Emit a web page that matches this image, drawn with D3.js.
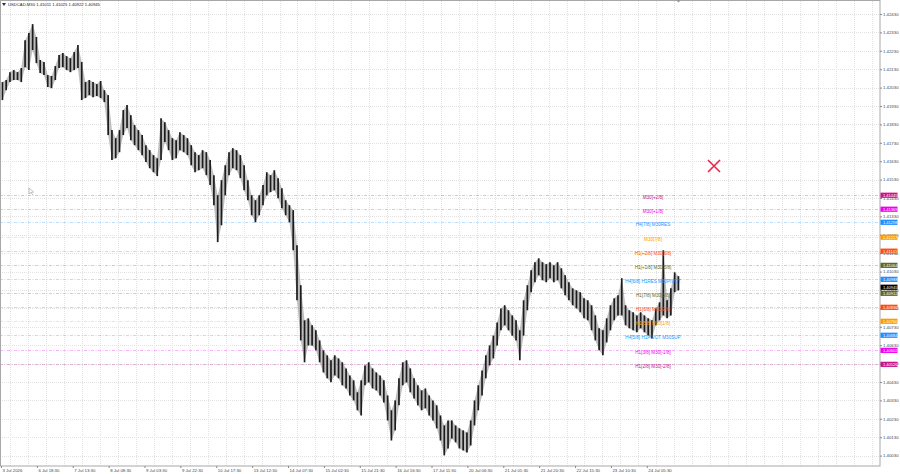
<!DOCTYPE html>
<html>
<head>
<meta charset="utf-8">
<script src="https://cdn.jsdelivr.net/npm/d3@7"></script>
<style>
  body { margin: 0; background: #fff; }
  text { font-family: "Liberation Sans", Arial, sans-serif; }
</style>
</head>
<body>
<div id="chart"></div>
<script>
// ---- data (USDCAD M30, one sample = 4 bars, high / low)
var symbolTitle = "USDCAD,M30  1.41011 1.41025 1.40922 1.40945";
var lastPrice = 1.40945;
var barsPerSample = 4;

var highs = [1.42060,1.42071,1.42114,1.42125,1.42114,1.42136,1.42288,1.42327,1.42375,1.42305,
  1.42180,1.42169,1.42098,1.42093,1.42147,1.42207,1.42218,1.42201,1.42190,1.42223,
  1.42261,1.42169,1.42060,1.42071,1.42060,1.42049,1.42066,1.42016,1.41989,1.41799,
  1.41755,1.41799,1.41908,1.41935,1.41880,1.41826,1.41799,1.41772,1.41717,1.41690,
  1.41663,1.41646,1.41864,1.41842,1.41799,1.41755,1.41744,1.41788,1.41772,1.41755,
  1.41717,1.41679,1.41663,1.41690,1.41679,1.41636,1.41554,1.41445,1.41527,1.41608,
  1.41679,1.41701,1.41690,1.41663,1.41608,1.41527,1.41445,1.41418,1.41445,1.41500,
  1.41570,1.41554,1.41581,1.41538,1.41483,1.41418,1.41391,1.41364,1.41173,1.40956,
  1.40765,1.40776,1.40738,1.40711,1.40656,1.40602,1.40575,1.40548,1.40575,1.40558,
  1.40537,1.40504,1.40466,1.40439,1.40374,1.40439,1.40520,1.40537,1.40504,1.40482,
  1.40466,1.40439,1.40357,1.40276,1.40330,1.40450,1.40537,1.40548,1.40504,1.40450,
  1.40412,1.40384,1.40395,1.40357,1.40330,1.40303,1.40248,1.40194,1.40221,1.40221,
  1.40194,1.40178,1.40167,1.40156,1.40221,1.40330,1.40412,1.40493,1.40575,1.40629,
  1.40682,1.40754,1.40830,1.40847,1.40820,1.40792,1.40765,1.40711,1.40874,1.40956,
  1.41037,1.41081,1.41102,1.41081,1.41070,1.41081,1.41064,1.41081,1.41048,1.41010,
  1.40972,1.40939,1.40928,1.40918,1.40885,1.40874,1.40847,1.40792,1.40722,1.40711,
  1.40776,1.40847,1.40885,1.40901,1.40994,1.40847,1.40820,1.40809,1.40792,1.40809,
  1.40792,1.40776,1.40765,1.40830,1.40863,1.41146,1.40874,1.40939,1.41026,1.41005];

var lows = [1.41962,1.42016,1.42060,1.42071,1.42071,1.42060,1.42141,1.42125,1.42234,1.42163,
  1.42109,1.42098,1.42033,1.42027,1.42071,1.42136,1.42141,1.42125,1.42114,1.42125,
  1.42136,1.41962,1.41973,1.41989,1.41978,1.41984,1.41973,1.41951,1.41772,1.41636,
  1.41646,1.41679,1.41772,1.41810,1.41744,1.41717,1.41690,1.41663,1.41625,1.41592,
  1.41570,1.41549,1.41636,1.41734,1.41690,1.41636,1.41646,1.41690,1.41679,1.41663,
  1.41608,1.41570,1.41581,1.41592,1.41554,1.41500,1.41391,1.41190,1.41282,1.41445,
  1.41554,1.41592,1.41581,1.41538,1.41472,1.41418,1.41336,1.41298,1.41336,1.41391,
  1.41445,1.41462,1.41472,1.41429,1.41374,1.41336,1.41298,1.41146,1.40874,1.40656,
  1.40537,1.40629,1.40629,1.40602,1.40537,1.40482,1.40450,1.40428,1.40466,1.40450,
  1.40412,1.40395,1.40357,1.40330,1.40276,1.40248,1.40412,1.40428,1.40395,1.40384,
  1.40357,1.40319,1.40221,1.40112,1.40167,1.40303,1.40412,1.40428,1.40374,1.40341,
  1.40303,1.40276,1.40287,1.40248,1.40221,1.40178,1.40112,1.40031,1.40069,1.40123,
  1.40102,1.40069,1.40058,1.40047,1.40085,1.40194,1.40276,1.40357,1.40450,1.40520,
  1.40558,1.40629,1.40711,1.40738,1.40711,1.40682,1.40656,1.40548,1.40682,1.40820,
  1.40918,1.40972,1.41010,1.40983,1.40972,1.40994,1.40972,1.40983,1.40939,1.40901,
  1.40874,1.40847,1.40830,1.40809,1.40776,1.40765,1.40711,1.40656,1.40602,1.40575,
  1.40645,1.40711,1.40765,1.40792,1.40792,1.40738,1.40722,1.40711,1.40700,1.40722,
  1.40700,1.40682,1.40667,1.40738,1.40765,1.40792,1.40776,1.40792,1.40918,1.40928];

var priceTicks = [1.42430,1.42330,1.42230,1.42130,1.42030,1.41930,1.41830,1.41730,1.41630,
  1.41530,1.41430,1.41330,1.41230,1.41130,1.41030,1.40930,1.40830,1.40730,1.40630,
  1.40530,1.40430,1.40330,1.40230,1.40130,1.40030];

var timeTickBars = [0,38,76,114,152,190,228,266,304,342,380,418,456,494,532,570,608,646,684];
var timeLabels = ["3 Jul 2026","6 Jul 18:30","7 Jul 13:30","8 Jul 08:30","9 Jul 03:30",
  "9 Jul 22:30","10 Jul 17:30","13 Jul 12:30","14 Jul 07:30","15 Jul 02:30","15 Jul 21:30",
  "16 Jul 16:30","17 Jul 11:30","20 Jul 06:30","21 Jul 01:30","21 Jul 20:30","22 Jul 15:30",
  "23 Jul 10:30","24 Jul 05:30"];

// murrey levels
var levelNames = ["M30[+2/8]","M30[+1/8]","H4[7/8] M30RES","M30[7/8]","H1[+2/8] M30[6/8]",
  "H1[+1/8] M30[5/8]","H4[6/8] H1RES M30PIVOT","H1[7/8] M30[3/8]","H1[6/8] M30[2/8]",
  "H1[5/8] M30[1/8]","H4[5/8] H1PIVOT M30SUP","H1[3/8] M30[-1/8]","H1[2/8] M30[-2/8]"];
var levelPrices = [1.41445,1.41369,1.41298,1.41217,1.41141,1.41064,1.40988,1.40912,
  1.40836,1.40760,1.40684,1.40602,1.40526];
var levelColors = ["#c8148c","#f000f0","#1e90ff","#ff9a00","#ff4a10","#5a6b32","#1e90ff",
  "#5a6b32","#ff4a10","#ff9a00","#1e90ff","#f000f0","#c8148c"];

// ---- layout
var W = 900, H = 474;
var plot = { left: 0, right: 880, top: 1, bottom: 466 };

var svg = d3.select("#chart").append("svg")
    .attr("width", W)
    .attr("height", H);

var x = d3.scaleLinear()
    .domain([0, 931])
    .range([1, 880]);

var y = d3.scaleLinear()
    .domain([1.40030, 1.42430])
    .range([455.6, 14]);

// grid
var gridBars = [];
timeTickBars.forEach(function (b) { gridBars.push(b + 10); gridBars.push(b + 29); });
for (var g = 703; g < 931; g += 19) gridBars.push(g + 10);

svg.append("g").selectAll("line.vg")
    .data(gridBars).enter()
    .append("line")
    .attr("x1", function (d) { return Math.round(x(d)) + 0.5; })
    .attr("x2", function (d) { return Math.round(x(d)) + 0.5; })
    .attr("y1", plot.top).attr("y2", plot.bottom)
    .attr("stroke", "#e2e2e2")
    .attr("stroke-dasharray", "1,1");

svg.append("g").selectAll("line.hg")
    .data(priceTicks).enter()
    .append("line")
    .attr("x1", plot.left).attr("x2", plot.right)
    .attr("y1", function (d) { return Math.round(y(d)) + 0.5; })
    .attr("y2", function (d) { return Math.round(y(d)) + 0.5; })
    .attr("stroke", "#e2e2e2")
    .attr("stroke-dasharray", "1,1");

// level lines
var levels = levelNames.map(function (n, i) {
    return { name: n, price: levelPrices[i], color: levelColors[i] };
});

svg.append("g").selectAll("line.lvl")
    .data(levels).enter()
    .append("line")
    .attr("x1", plot.left).attr("x2", plot.right)
    .attr("y1", function (d) { return Math.round(y(d.price)) + 0.5; })
    .attr("y2", function (d) { return Math.round(y(d.price)) + 0.5; })
    .attr("stroke", function (d) { return d.color; })
    .attr("stroke-opacity", 0.3)
    .attr("stroke-dasharray", "3,1.5,1,1.5");

// price bars: light range band plus one line per sample
var sampleIdx = highs.map(function (d, i) { return i * barsPerSample + 1.5; });

var band = d3.area()
    .x(function (d, i) { return x(sampleIdx[i]); })
    .y0(function (d, i) { return y(lows[i]); })
    .y1(function (d) { return y(d); });

svg.append("path")
    .datum(highs)
    .attr("d", band)
    .attr("fill", "#8a8a8a")
    .attr("fill-opacity", 0.55);

svg.append("g").selectAll("line.bar")
    .data(highs).enter()
    .append("line")
    .attr("x1", function (d, i) { return x(sampleIdx[i]); })
    .attr("x2", function (d, i) { return x(sampleIdx[i]); })
    .attr("y1", function (d) { return y(d); })
    .attr("y2", function (d, i) { return y(lows[i]); })
    .attr("stroke", "#1c1c1c")
    .attr("stroke-width", 1.7);

// level labels
svg.append("g").selectAll("text")
    .data(levels).enter()
    .append("text")
    .attr("x", 653)
    .attr("y", function (d) { return y(d.price) + 3.5; })
    .attr("text-anchor", "middle")
    .attr("font-size", 4.6)
    .attr("fill", function (d) { return d.color; })
    .text(function (d) { return d.name; });

// frame
svg.append("rect")
    .attr("x", 0.5).attr("y", 0.5)
    .attr("width", plot.right - 0.5).attr("height", plot.bottom - 0.5)
    .attr("fill", "none")
    .attr("stroke", "#a8a8a8");

// axes
var yAxis = d3.axisRight(y)
    .tickValues(priceTicks)
    .tickFormat(d3.format(".5f"))
    .tickSize(2);

var yAxisGroup = svg.append("g")
    .attr("transform", "translate(" + plot.right + ",0)")
    .call(yAxis);
yAxisGroup.select(".domain").remove();
yAxisGroup.selectAll("line").attr("stroke", "#888");
yAxisGroup.selectAll("text")
    .attr("x", 3)
    .attr("font-size", 4.3)
    .attr("fill", "#444");

var xAxis = d3.axisBottom(x)
    .tickValues(timeTickBars)
    .tickFormat(function (d, i) { return timeLabels[i]; })
    .tickSize(2);

var xAxisGroup = svg.append("g")
    .attr("transform", "translate(0," + plot.bottom + ")")
    .call(xAxis);
xAxisGroup.select(".domain").remove();
xAxisGroup.selectAll("line").attr("stroke", "#888");
xAxisGroup.selectAll("text")
    .attr("text-anchor", "start")
    .attr("x", 1)
    .attr("y", 3)
    .attr("font-size", 4.3)
    .attr("fill", "#444");

// price boxes on the right scale
var boxes = levels.concat([{ name: "", price: lastPrice, color: "#000" }]);
var boxG = svg.append("g").selectAll("g")
    .data(boxes).enter()
    .append("g")
    .attr("transform", function (d) { return "translate(" + plot.right + "," + y(d.price) + ")"; });

boxG.append("rect")
    .attr("x", 0.5).attr("y", -2.6)
    .attr("width", 17).attr("height", 5.2)
    .attr("fill", function (d) { return d.color; });

boxG.append("text")
    .attr("x", 3)
    .attr("y", 1.5)
    .attr("font-size", 4)
    .attr("fill", "#fff")
    .text(function (d) { return d3.format(".5f")(d.price); });

// title
svg.append("path")
    .attr("d", "M2,3 L6,3 L4,6 Z")
    .attr("fill", "#333");
svg.append("text")
    .attr("x", 8)
    .attr("y", 6)
    .attr("font-size", 4.2)
    .attr("fill", "#222")
    .text(symbolTitle);

// red cross object
svg.append("path")
    .attr("d", "M708,160 L720,172 M720,160 L708,172")
    .attr("stroke", "#e8254a")
    .attr("stroke-width", 1.6);

// mouse pointer
svg.append("path")
    .attr("d", "M29,188 L29,194 L31,192.5 L33,195 M29,188 L33.5,192 L31,192.5")
    .attr("fill", "none")
    .attr("stroke", "#999")
    .attr("stroke-width", 0.6);

// shift marker
svg.append("path")
    .attr("d", "M676,0 L681,0 L678.5,2.5 Z")
    .attr("fill", "#999");
</script>
</body>
</html>
